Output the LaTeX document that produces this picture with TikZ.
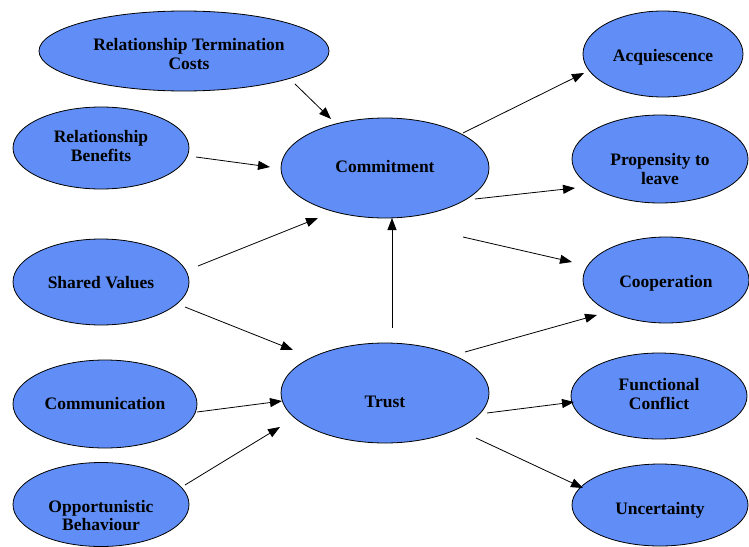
\documentclass[tikz,border=0pt]{standalone}
\usepackage{fontspec}
\setmainfont{Liberation Serif}
\usetikzlibrary{shapes.geometric,arrows.meta}
\definecolor{ellblue}{RGB}{96,142,246}
\begin{document}
\begin{tikzpicture}[x=1pt,y=-1pt,
  ell/.style={ellipse,draw=black,line width=0.8pt,fill=ellblue,inner sep=0pt},
  txt/.style={align=center,inner sep=0pt,font=\fontsize{17.5}{18.5}\selectfont\bfseries},
  arr/.style={line width=0.8pt,-{Triangle[length=12pt,width=9pt]}}]
\useasboundingbox (0,0) rectangle (749,546);
% nodes
\node[ell,minimum width=290pt,minimum height=80pt,label={[txt,xshift=5pt,yshift=-3pt]center:Relationship Termination\\Costs}] (rtc) at (184,51) {};
\node[ell,minimum width=176pt,minimum height=82pt,label={[txt,yshift=2pt]center:Relationship\\Benefits}] (rb) at (101,148) {};
\node[ell,minimum width=208pt,minimum height=100pt,label={[txt,yshift=1pt]center:Commitment}] (com) at (385,168) {};
\node[ell,minimum width=160pt,minimum height=86pt,label={[txt,yshift=-3pt]center:Acquiescence}] (acq) at (663,54) {};
\node[ell,minimum width=176pt,minimum height=88pt,label={[txt,yshift=-10pt]center:Propensity to\\leave}] (prop) at (660,159) {};
\node[ell,minimum width=176pt,minimum height=86pt,label={[txt,yshift=-1pt]center:Shared Values}] (sv) at (101,282) {};
\node[ell,minimum width=184pt,minimum height=88pt,label={[txt]center:Communication}] (comm) at (105,404) {};
\node[ell,minimum width=176pt,minimum height=84pt,label={[txt,yshift=-11pt]center:Opportunistic\\Behaviour}] (ob) at (101,504.5) {};
\node[ell,minimum width=208pt,minimum height=100pt,label={[txt,yshift=-8.5pt]center:Trust}] (trust) at (385,393) {};
\node[ell,minimum width=166pt,minimum height=86pt,label={[txt,yshift=-3pt]center:Cooperation}] (coop) at (666,280) {};
\node[ell,minimum width=176pt,minimum height=86pt,label={[txt,yshift=2pt]center:Functional\\Conflict}] (fc) at (659,396) {};
\node[ell,minimum width=176pt,minimum height=82pt,label={[txt,yshift=-5pt]center:Uncertainty}] (unc) at (660,505) {};
% arrow end points
\coordinate (rtcS) at (295,84);   \coordinate (comA) at (331,119);
\coordinate (rbS) at (196,157);   \coordinate (comB) at (270,167);
\coordinate (svS1) at (198,266);  \coordinate (comC) at (318,218);
\coordinate (svS2) at (185,307);  \coordinate (trA) at (293,350);
\coordinate (commS) at (197,412); \coordinate (trB) at (282,401);
\coordinate (obS) at (185,485);   \coordinate (trC) at (280,427);
\coordinate (trS1) at (392,328);  \coordinate (comD) at (392,218);
\coordinate (comS1) at (463,133); \coordinate (acqE) at (584,73);
\coordinate (comS2) at (475,199); \coordinate (propE) at (575,188);
\coordinate (comS3) at (463,237); \coordinate (coopA) at (572,262);
\coordinate (trS2) at (465,352);  \coordinate (coopB) at (597,315);
\coordinate (trS3) at (487,413);  \coordinate (fcE) at (574,402);
\coordinate (trS4) at (476,438);  \coordinate (uncE) at (583,488);
% connectors
\draw[arr] (rtcS) -- (comA);
\draw[arr] (rbS) -- (comB);
\draw[arr] (svS1) -- (comC);
\draw[arr] (svS2) -- (trA);
\draw[arr] (commS) -- (trB);
\draw[arr] (obS) -- (trC);
\draw[arr] (trS1) -- (comD);
\draw[arr] (comS1) -- (acqE);
\draw[arr] (comS2) -- (propE);
\draw[arr] (comS3) -- (coopA);
\draw[arr] (trS2) -- (coopB);
\draw[arr] (trS3) -- (fcE);
\draw[arr] (trS4) -- (uncE);
\end{tikzpicture}
\end{document}
